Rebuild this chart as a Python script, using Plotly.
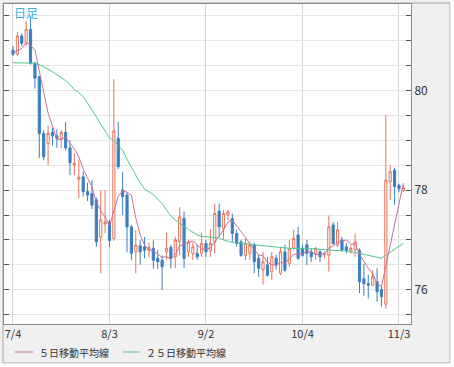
import plotly.graph_objects as go

dates = ["7/4","7/5","7/6","7/7","7/8","7/11","7/12","7/13","7/14","7/15",
         "7/18","7/19","7/20","7/21","7/22","7/25","7/26","7/27","7/28","7/29",
         "8/1","8/2","8/3","8/4","8/5","8/8","8/9","8/10","8/11","8/12",
         "8/15","8/16","8/17","8/18","8/19","8/22","8/23","8/24","8/25","8/26",
         "8/29","8/30","8/31","9/1","9/2","9/5","9/6","9/7","9/8","9/9",
         "9/12","9/13","9/14","9/15","9/16","9/19","9/20","9/21","9/22","9/23",
         "9/26","9/27","9/28","9/29","9/30","10/3","10/4","10/5","10/6","10/7",
         "10/10","10/11","10/12","10/13","10/14","10/17","10/18","10/19","10/20","10/21",
         "10/24","10/25","10/26","10/27","10/28","10/31","11/1","11/2","11/3","11/4"]

open_ = [80.81,80.73,81.10,80.95,81.23,80.55,80.28,79.14,78.94,79.16,
         79.09,79.04,79.16,78.85,78.50,78.22,78.27,77.97,77.93,77.80,
         77.05,77.32,77.36,77.03,79.04,78.00,77.90,77.26,76.76,76.88,
         76.86,76.79,76.83,76.63,76.59,76.76,76.85,76.66,76.97,77.43,
         76.76,76.72,76.73,76.73,76.93,76.78,76.96,77.58,77.23,77.50,
         77.43,77.13,76.96,76.69,76.73,76.90,76.63,76.40,76.50,76.36,
         76.63,76.33,76.76,76.53,76.83,77.10,76.83,76.90,76.76,76.73,
         76.76,76.70,76.69,77.30,76.90,77.00,76.86,76.76,76.80,76.79,
         76.22,76.12,76.09,76.16,76.00,75.71,78.17,78.40,78.10,78.00]
high = [80.90,81.18,81.15,81.40,81.47,80.58,80.30,79.20,79.30,79.25,
        79.22,79.21,79.37,79.00,78.73,78.60,78.37,78.15,78.20,77.85,
        78.00,78.00,77.40,80.23,79.37,78.37,77.95,77.30,77.20,77.00,
        77.06,76.95,76.99,76.80,76.69,77.14,76.90,77.06,77.66,77.57,
        77.00,76.95,76.90,77.15,77.00,77.22,77.73,77.73,77.60,77.60,
        77.53,77.20,77.00,77.03,76.96,76.95,76.70,76.76,76.66,76.76,
        76.70,76.86,76.90,77.00,77.20,77.26,76.90,77.00,76.83,76.86,
        76.80,76.76,77.49,77.36,77.36,77.06,76.93,76.89,77.13,76.83,
        76.52,76.30,76.39,76.43,76.06,79.51,78.50,78.45,78.13,78.10]
low = [80.70,80.70,80.90,80.90,80.52,80.04,78.65,78.60,78.50,78.90,
       78.85,78.84,78.80,78.30,78.30,77.84,77.87,77.78,77.62,76.86,
       76.33,77.13,76.85,76.98,78.42,77.50,76.75,76.60,76.33,76.50,
       76.63,76.65,76.42,76.42,75.99,76.60,76.43,76.43,76.69,76.43,
       76.66,76.60,76.60,76.66,76.66,76.66,76.73,77.06,77.00,77.40,
       76.96,76.86,76.66,76.60,76.60,76.33,76.26,76.10,76.26,76.20,
       76.40,76.29,76.36,76.46,76.80,76.60,76.66,76.50,76.56,76.60,
       76.56,76.63,76.36,76.90,76.86,76.76,76.73,76.73,76.66,75.93,
       75.88,75.82,76.07,75.76,75.66,75.62,77.80,77.70,77.96,77.96]
close = [80.73,81.10,80.95,81.23,80.55,80.25,79.14,78.67,79.14,79.09,
         79.04,79.16,78.85,78.55,78.54,78.26,77.97,77.90,77.70,76.96,
         77.40,77.36,76.99,79.19,78.47,77.87,77.26,76.73,76.89,76.76,
         76.79,76.85,76.59,76.56,76.46,76.83,76.63,77.00,77.46,76.63,
         76.96,76.86,76.66,76.93,76.76,76.93,77.53,77.26,77.53,77.56,
         77.13,76.93,76.69,76.93,76.90,76.56,76.43,76.56,76.29,76.66,
         76.50,76.76,76.39,76.83,77.03,76.63,76.69,76.73,76.66,76.83,
         76.66,76.72,77.26,76.93,77.20,76.80,76.79,76.83,76.96,76.16,
         76.12,76.09,76.26,75.96,75.86,78.20,78.37,78.07,78.03,78.05]

ma5 = [80.75,80.80,80.85,80.96,80.91,80.82,80.42,79.97,79.55,79.26,
       79.02,79.02,79.06,78.94,78.83,78.67,78.43,78.24,78.07,77.76,
       77.59,77.46,77.28,77.58,77.88,77.98,77.96,77.90,77.44,77.10,
       76.89,76.80,76.78,76.71,76.65,76.66,76.61,76.70,76.88,76.91,
       76.94,76.98,76.91,76.81,76.83,76.83,76.96,77.08,77.20,77.36,
       77.40,77.28,77.17,77.05,76.92,76.80,76.70,76.68,76.55,76.50,
       76.49,76.55,76.52,76.63,76.70,76.73,76.71,76.78,76.75,76.71,
       76.71,76.72,76.83,76.88,76.95,76.98,77.00,76.91,76.92,76.71,
       76.57,76.43,76.32,76.12,76.06,76.47,76.93,77.29,77.71,78.14]
ma25 = [80.56,80.56,80.56,80.56,80.56,80.55,80.52,80.48,80.43,80.38,
        80.32,80.26,80.20,80.12,80.02,79.96,79.88,79.75,79.62,79.47,
        79.33,79.18,79.05,79.00,78.90,78.80,78.62,78.46,78.30,78.14,
        78.02,77.97,77.91,77.82,77.73,77.60,77.48,77.40,77.33,77.27,
        77.21,77.15,77.10,77.07,77.06,77.05,77.05,77.04,77.00,76.97,
        76.95,76.94,76.93,76.92,76.91,76.90,76.90,76.89,76.88,76.87,
        76.86,76.85,76.84,76.83,76.83,76.83,76.83,76.83,76.83,76.82,
        76.81,76.81,76.80,76.79,76.79,76.78,76.78,76.76,76.75,76.73,
        76.71,76.69,76.67,76.65,76.63,76.69,76.75,76.81,76.87,76.93]

x_ticks = ["7/4", "8/3", "9/2", "10/4", "11/3"]
y_ticks = [75.5, 76, 76.5, 77, 77.5, 78, 78.5, 79, 79.5, 80, 80.5, 81, 81.5]
y_labels = ["", "76", "", "", "", "78", "", "", "", "80", "", "", ""]
legend_names = ["５日移動平均線", "２５日移動平均線"]
title_text = "日足"

UP = "#e8735a"
DOWN = "#3a7fc1"
MA5_C = "#c3709e"
MA25_C = "#4fc98c"
FONT = "Noto Sans CJK JP"

fig = go.Figure()
fig.add_trace(go.Candlestick(
    x=dates, open=open_, high=high, low=low, close=close,
    increasing=dict(line=dict(color=UP, width=1), fillcolor="#ffffff"),
    decreasing=dict(line=dict(color=DOWN, width=1), fillcolor=DOWN),
    whiskerwidth=0, showlegend=False, hoverinfo="skip"))
fig.add_trace(go.Scatter(x=dates, y=ma25, mode="lines",
                         line=dict(color=MA25_C, width=1), showlegend=False))
fig.add_trace(go.Scatter(x=dates, y=ma5, mode="lines",
                         line=dict(color=MA5_C, width=1), showlegend=False))

W, H = 454, 367
L, R, T, B = 4, 43, 4, 43
pw, ph = W - L - R, H - T - B

def px(x):
    return (x - L) / pw

def py(y):
    return (H - B - y) / ph

shapes = [
    dict(type="rect", xref="paper", yref="paper", x0=px(3), x1=px(450), y0=py(363), y1=py(3),
         line=dict(color="#a8a8a8", width=1), fillcolor="rgba(0,0,0,0)", layer="below"),
    dict(type="rect", xref="paper", yref="paper", x0=px(450.5), x1=px(460), y0=py(370), y1=py(-5),
         line=dict(width=0), fillcolor="#ffffff", layer="below"),
    dict(type="rect", xref="paper", yref="paper", x0=px(-5), x1=px(460), y0=py(370), y1=py(363.5),
         line=dict(width=0), fillcolor="#ffffff", layer="below"),
    dict(type="line", xref="paper", yref="paper", x0=px(15), x1=px(33), y0=py(352), y1=py(352),
         line=dict(color=MA5_C, width=1)),
    dict(type="line", xref="paper", yref="paper", x0=px(123), x1=px(140), y0=py(352), y1=py(352),
         line=dict(color=MA25_C, width=1)),
]

annotations = [
    dict(text=legend_names[0], xref="paper", yref="paper", x=px(37), y=py(352),
         xanchor="left", yanchor="middle", showarrow=False,
         font=dict(family=FONT, size=10, color="#333333")),
    dict(text=legend_names[1], xref="paper", yref="paper", x=px(144), y=py(352),
         xanchor="left", yanchor="middle", showarrow=False,
         font=dict(family=FONT, size=10, color="#333333")),
    dict(text=title_text, xref="paper", yref="paper", x=px(12), y=py(12),
         xanchor="left", yanchor="middle", showarrow=False,
         font=dict(family=FONT, size=12, color="#3ab0e6")),
]

fig.update_layout(
    width=W, height=H,
    margin=dict(l=L, r=R, t=T, b=B, pad=0, autoexpand=False),
    paper_bgcolor="#f0f0f0", plot_bgcolor="#ffffff",
    font=dict(family=FONT, size=11, color="#333333"),
    showlegend=False,
    shapes=shapes, annotations=annotations,
    xaxis=dict(type="category", range=[-2.05, 90.74], rangeslider=dict(visible=False),
               tickmode="array", tickvals=x_ticks, ticktext=x_ticks, automargin=False,
               showgrid=True, gridcolor="#d6d6d6", gridwidth=1,
               showline=True, linecolor="#8c8c8c", linewidth=1, mirror=True,
               ticks="", tickfont=dict(size=11, color="#333333"), fixedrange=True),
    yaxis=dict(side="right", range=[75.31, 81.74], tickmode="array", automargin=False,
               tickvals=y_ticks, ticktext=y_labels,
               showgrid=True, gridcolor="#e6e6e6", gridwidth=1, zeroline=False,
               showline=True, linecolor="#8c8c8c", linewidth=1, mirror="ticks",
               ticks="inside", ticklen=5, tickcolor="#555555",
               tickfont=dict(size=12, color="#333333"), fixedrange=True),
)

fig.write_html("out.html",
               config={"displayModeBar": False},
               post_script="document.body.style.margin='0';document.body.style.overflow='hidden';")
